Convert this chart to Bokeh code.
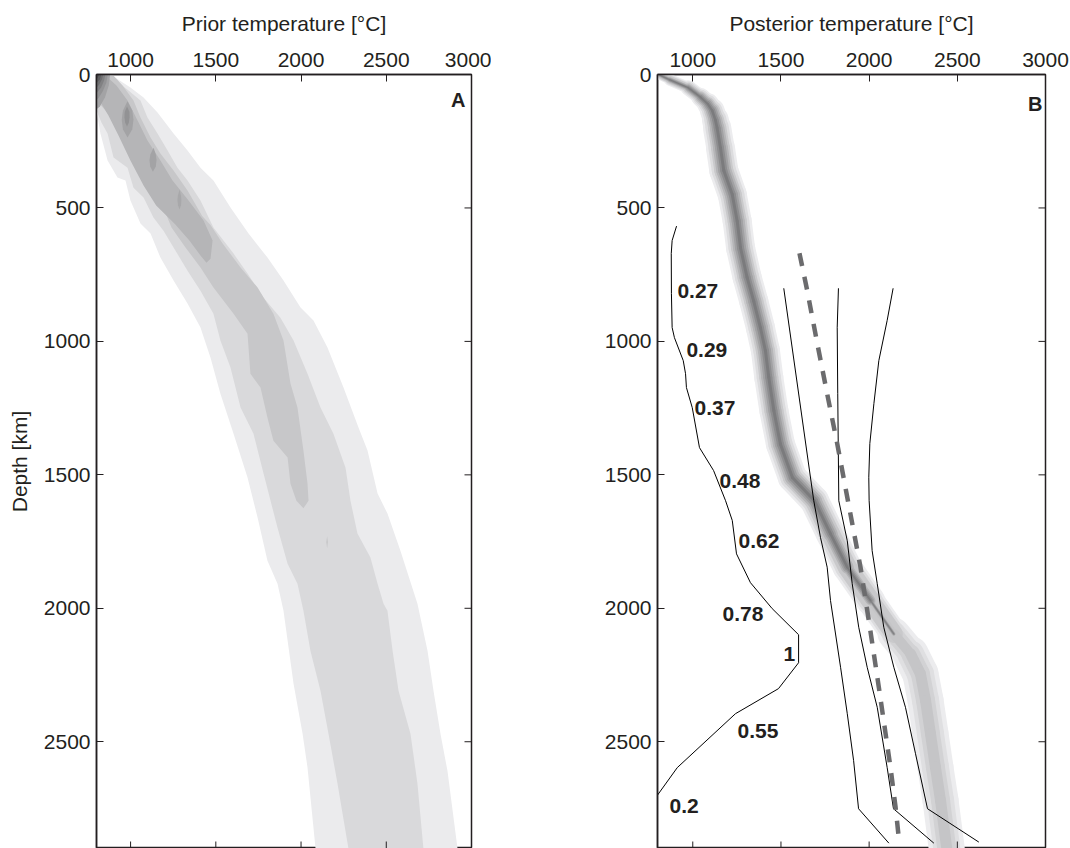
import math

from bokeh.plotting import figure
from bokeh.models import Range1d, FixedTicker, Label, ColumnDataSource
from bokeh.layouts import row
from bokeh.core.properties import value
from bokeh.embed import file_html
from bokeh.resources import INLINE

FONT = "Liberation Sans"
INK = "#231f20"

# ---------------------------------------------------------------------------
# Panel A: prior temperature density, drawn as nested filled contour bands.
# Each band is bounded by a left and a right edge (temperature [C], depth [km]).
# ---------------------------------------------------------------------------
band1_left_t = [800, 800, 823, 865, 923, 970, 999, 1058, 1117, 1175, 1252, 1334, 1410, 1469,
                1527, 1604, 1686, 1745, 1803, 1862, 1897, 1956, 2009, 2038, 2085]
band1_left_d = [0, 135, 221, 322, 386, 397, 472, 558, 596, 686, 772, 858, 948, 1061,
                1196, 1346, 1510, 1660, 1822, 1908, 2009, 2283, 2470, 2597, 2900]
band1_right_t = [882, 999, 1076, 1158, 1252, 1334, 1410, 1486, 1586, 1692, 1803, 1897, 1997, 2073,
                 2155, 2249, 2337, 2390, 2449, 2507, 2583, 2683, 2742, 2777, 2818, 2859, 2918]
band1_right_d = [0, 49, 86, 142, 221, 285, 349, 397, 498, 596, 686, 772, 873, 922,
                 1023, 1173, 1323, 1409, 1570, 1645, 1784, 1983, 2159, 2309, 2470, 2609, 2900]

band2_left_t = [800, 800, 829, 865, 900, 982, 1017, 1076, 1134, 1193, 1252, 1334, 1410, 1486, 1527,
                1586, 1645, 1721, 1780, 1821, 1862, 1921, 1979, 2014, 2055, 2114, 2161, 2214, 2278]
band2_left_d = [0, 135, 180, 221, 311, 349, 424, 461, 536, 585, 648, 735, 810, 896, 997,
                1098, 1248, 1346, 1495, 1597, 1698, 1833, 1908, 2009, 2159, 2309, 2470, 2657, 2900]
band2_right_t = [841, 911, 988, 1058, 1099, 1158, 1217, 1275, 1334, 1410, 1486, 1604, 1686, 1780, 1879, 1956,
                 2038, 2114, 2190, 2261, 2290, 2331, 2407, 2449, 2484, 2507, 2537, 2572, 2642, 2683, 2718]
band2_right_d = [0, 22, 60, 97, 161, 221, 285, 349, 397, 472, 573, 671, 746, 836, 911, 997,
                 1121, 1248, 1346, 1473, 1597, 1720, 1810, 1908, 1983, 2009, 2159, 2309, 2470, 2657, 2900]

band3_left_t = [800, 800, 853, 900, 958, 1017, 1099, 1175, 1240, 1322, 1410, 1486, 1604, 1686, 1703,
                1762, 1803, 1838, 1921, 1938, 1973, 2014]
band3_left_d = [0, 97, 135, 172, 236, 334, 409, 472, 573, 648, 723, 798, 896, 971, 1121,
                1173, 1286, 1372, 1435, 1533, 1597, 1625]
band3_right_t = [894, 953, 1017, 1058, 1117, 1175, 1252, 1334, 1420, 1470, 1540, 1645, 1745, 1838, 1897,
                 1938, 1979, 2014, 2038, 2044, 2014]
band3_right_d = [0, 41, 97, 161, 236, 296, 360, 435, 530, 565, 633, 723, 798, 896, 997,
                 1158, 1248, 1409, 1533, 1597, 1625]

band4_left_t = [800, 800, 870, 929, 999, 1076, 1150, 1260, 1345, 1410, 1445]
band4_left_d = [0, 79, 154, 229, 322, 416, 491, 560, 622, 678, 705]
band4_right_t = [847, 917, 982, 1041, 1099, 1175, 1246, 1340, 1428, 1481, 1469, 1445]
band4_right_d = [0, 41, 97, 172, 247, 322, 397, 472, 547, 622, 690, 705]

# small high-density pockets along the prior band
pocket_d = [[100, 135, 170, 205, 236], [120, 140, 160, 180, 195],
            [274, 300, 320, 345, 364], [431, 455, 470, 490, 506],
            [1730, 1752, 1775]]
pocket_left_t = [[982, 955, 948, 955, 982], [979, 966, 964, 968, 979],
                 [1135, 1116, 1111, 1115, 1131], [1287, 1277, 1275, 1278, 1287],
                 [2153, 2148, 2153]]
pocket_right_t = [[982, 1010, 1017, 1010, 982], [979, 993, 994, 990, 979],
                  [1135, 1148, 1152, 1148, 1131], [1287, 1296, 1298, 1296, 1287],
                  [2153, 2158, 2153]]
pocket_colors = ["#a3a3a5", "#929294", "#a3a3a5", "#a8a8aa", "#c7c7c9"]

# density peak at the surface (top-left corner), outermost to innermost contour
corner_t = [[800, 880, 872, 850, 820, 800], [800, 866, 858, 838, 812, 800],
            [800, 852, 845, 828, 800], [800, 840, 832, 815, 800],
            [800, 828, 820, 800], [800, 816, 808, 800]]
corner_d = [[0, 0, 40, 85, 120, 130], [0, 0, 30, 62, 88, 95],
            [0, 0, 22, 48, 70], [0, 0, 18, 38, 50],
            [0, 0, 18, 32], [0, 0, 10, 18]]
corner_colors = ["#a3a3a5", "#939395", "#818183", "#6f6f71", "#5c5c5e", "#48484a"]

band_colors = ["#ebebed", "#d9d9db", "#c7c7c9", "#b5b5b7"]

# ---------------------------------------------------------------------------
# Panel B: posterior temperature band, ratio profile and reference geotherms
# ---------------------------------------------------------------------------
post_depth = [0, 20, 50, 85, 110, 135, 170, 200, 275, 360, 450, 550, 650, 760, 850, 950, 1035, 1135,
              1260, 1385, 1510, 1597, 1721, 1846, 1971, 2096]
post_temp = [805, 870, 975, 1044, 1085, 1110, 1128, 1138, 1157, 1176, 1224, 1252, 1271, 1308, 1346,
             1384, 1412, 1431, 1460, 1497, 1565, 1690, 1781, 1876, 2008, 2140]
post_spread = [0.3, 0.35, 0.45, 0.6, 0.7, 0.8, 0.9, 0.95, 1, 1, 1, 1, 1, 1, 1, 1, 1, 1,
               1, 1, 1, 1, 1, 1, 1, 0.9]
post_core = [0.8, 0.85, 0.9, 1, 1, 1, 1, 1, 1, 1, 1, 1, 1, 1, 1, 1, 1, 1,
             1, 1, 1, 1, 0.9, 0.8, 0.5, 0.0]

post_low_depth = [1971, 2096, 2171, 2246, 2346, 2471, 2596, 2721, 2900]
post_low_temp = [2008, 2140, 2235, 2291, 2320, 2348, 2376, 2405, 2440]
post_low_spread = [0.5, 0.8, 1, 1, 1, 1, 1, 1, 1]

ratio_depth = [568, 622, 671, 821, 948, 986, 1072, 1121, 1173, 1248, 1398, 1484, 1597, 1671,
               1796, 1904, 2001, 2099, 2204, 2301, 2395, 2597, 2700]
ratio_value = [0.308, 0.283, 0.278, 0.279, 0.283, 0.296, 0.346, 0.359, 0.364, 0.397, 0.438, 0.518,
               0.586, 0.624, 0.648, 0.727, 0.85, 1.0, 1.0, 0.886, 0.642, 0.312, 0.2]
# the ratio profile is drawn on the temperature axis as 600 + 1000 * ratio
RATIO_ORIGIN = 600
RATIO_SCALE = 1000

ratio_labels = ["0.27", "0.29", "0.37", "0.48", "0.62", "0.78", "1", "0.55", "0.2"]
ratio_label_depth = [810, 1033, 1250, 1523, 1748, 2020, 2172, 2459, 2741]
ratio_label_temp = [913, 964, 1010, 1152, 1259, 1169, 1514, 1254, 868]

geo_a_depth = [801, 1597, 1734, 1846, 1971, 2221, 2395, 2571, 2751, 2880]
geo_a_temp = [1516, 1686, 1724, 1762, 1781, 1838, 1876, 1912, 1940, 2112]
geo_b_depth = [801, 947, 1196, 1597, 1747, 1908, 2071, 2221, 2371, 2596, 2751, 2880]
geo_b_temp = [1826, 1819, 1822, 1828, 1876, 1904, 1941, 1989, 2046, 2102, 2138, 2367]
geo_c_depth = [801, 922, 1072, 1233, 1383, 1509, 1597, 1784, 1908, 2071, 2221, 2371, 2545, 2751, 2876]
geo_c_temp = [2136, 2102, 2055, 2027, 2004, 1998, 2000, 2017, 2046, 2083, 2140, 2206, 2263, 2331, 2622]

dash_depth = [670, 810, 1008, 1196, 1383, 1584, 1846, 2071, 2296, 2596, 2746, 2860]
dash_temp = [1605, 1649, 1706, 1762, 1819, 1876, 1951, 2004, 2055, 2121, 2150, 2168]

temp_ticks = [1000, 1500, 2000, 2500, 3000]
depth_ticks = [0, 500, 1000, 1500, 2000, 2500]
T_MIN, T_MAX = 800, 3000
D_MAX = 2900


def style_axis(ax, ticks):
    ax.ticker = FixedTicker(ticks=ticks)
    ax.axis_line_color = INK
    ax.axis_line_width = 1.5
    ax.major_tick_line_color = INK
    ax.major_tick_line_width = 1
    ax.major_tick_in = 7
    ax.major_tick_out = 0
    ax.minor_tick_line_color = None
    ax.major_label_text_font = FONT
    ax.major_label_text_color = INK
    ax.major_label_text_font_size = "21px"
    ax.major_label_standoff = 6
    ax.axis_label_text_font = FONT
    ax.axis_label_text_font_size = "21px"
    ax.axis_label_text_font_style = "normal"
    ax.axis_label_text_color = INK


def make_panel(width, border_left, border_right, title, ylabel):
    p = figure(width=width, height=848, x_range=Range1d(T_MIN, T_MAX), y_range=Range1d(D_MAX, 0),
               x_axis_location="above", output_backend="svg", toolbar_location=None,
               min_border_left=border_left, min_border_right=border_right,
               min_border_top=74, min_border_bottom=0)
    p.outline_line_color = INK
    p.outline_line_width = 1.5
    p.xgrid.visible = False
    p.ygrid.visible = False
    top = p.xaxis[0]
    style_axis(top, temp_ticks)
    top.major_label_standoff = 8
    top.axis_label = title
    top.axis_label_standoff = 15
    left = p.yaxis[0]
    style_axis(left, depth_ticks)
    if ylabel:
        left.axis_label = ylabel
        left.axis_label_standoff = 10
    return p


def inner_ticks(p):
    # inward tick marks on the bottom and right edges of the box (half of each
    # dash marker is clipped away by the frame)
    p.scatter(temp_ticks[:-1], [D_MAX] * (len(temp_ticks) - 1), marker="dash", size=14,
              angle=math.pi / 2, line_color=INK, line_width=1)
    p.scatter([T_MAX] * (len(depth_ticks) - 1), depth_ticks[1:], marker="dash", size=14,
              line_color=INK, line_width=1)


def outline(left_t, left_d, right_t, right_d):
    return list(left_t) + list(right_t)[::-1], list(left_d) + list(right_d)[::-1]


# ---------------- Panel A ----------------
pa = make_panel(491, 96, 20, "Prior temperature [°C]", "Depth [km]")

bands = [(band1_left_t, band1_left_d, band1_right_t, band1_right_d),
         (band2_left_t, band2_left_d, band2_right_t, band2_right_d),
         (band3_left_t, band3_left_d, band3_right_t, band3_right_d),
         (band4_left_t, band4_left_d, band4_right_t, band4_right_d)]
for (lt, ld, rt, rd), col in zip(bands, band_colors):
    xs, ys = outline(lt, ld, rt, rd)
    pa.patch(xs, ys, fill_color=col, line_color=None)

for d, lt, rt, col in zip(pocket_d, pocket_left_t, pocket_right_t, pocket_colors):
    xs, ys = outline(lt, d, rt, d)
    pa.patch(xs, ys, fill_color=col, line_color=None)

for ct, cd, col in zip(corner_t, corner_d, corner_colors):
    pa.patch(ct, cd, fill_color=col, line_color=None)

inner_ticks(pa)
pa.add_layout(Label(x=2965, y=97, text="A", text_align="right", text_baseline="middle",
                    text_font=FONT, text_font_size="20px", text_font_style="bold", text_color=INK))

# ---------------- Panel B ----------------
pb = make_panel(579, 166, 25, "Posterior temperature [°C]", None)


def segments(depths, temps, factor_lists):
    xs, ys = [], []
    facs = [[] for _ in factor_lists]
    for i in range(len(depths) - 1):
        xs.append([temps[i], temps[i + 1]])
        ys.append([depths[i], depths[i + 1]])
        for k, fl in enumerate(factor_lists):
            facs[k].append(0.5 * (fl[i] + fl[i + 1]))
    return xs, ys, facs


up_xs, up_ys, (up_spread, up_core) = segments(post_depth, post_temp, [post_spread, post_core])
lo_xs, lo_ys, (lo_spread,) = segments(post_low_depth, post_low_temp, [post_low_spread])

# (path, base width in px, colour, uses core fading) drawn lightest first
layers = [("low", 36, "#ececee", False), ("up", 29, "#ececee", False),
          ("low", 27, "#dfdfe1", False), ("up", 24, "#dcdcde", False),
          ("low", 19, "#d2d2d4", False), ("up", 19, "#c9c9cb", False),
          ("low", 11, "#c5c5c7", False), ("up", 15, "#b5b5b7", True),
          ("up", 11, "#a1a1a3", True), ("up", 7, "#8d8d8f", True),
          ("up", 3, "#7b7b7d", True)]
for path, w, col, fade in layers:
    if path == "up":
        xs, ys = up_xs, up_ys
        widths = [w * s * (c if fade else 1) for s, c in zip(up_spread, up_core)]
    else:
        xs, ys = lo_xs, lo_ys
        widths = [w * s for s in lo_spread]
    src = ColumnDataSource(dict(xs=xs, ys=ys, w=widths))
    pb.multi_line("xs", "ys", source=src, line_width="w", line_color=col,
                  line_cap="round", line_join="round")

ratio_temp = [RATIO_ORIGIN + RATIO_SCALE * v for v in ratio_value]
pb.line(ratio_temp, ratio_depth, line_color="black", line_width=1)

for gt, gd in [(geo_a_temp, geo_a_depth), (geo_b_temp, geo_b_depth), (geo_c_temp, geo_c_depth)]:
    pb.line(gt, gd, line_color="black", line_width=1)

pb.line(dash_temp, dash_depth, line_color="#6b6b6d", line_width=4.5, line_dash="13 11")

lab_src = ColumnDataSource(dict(x=ratio_label_temp, y=ratio_label_depth, t=ratio_labels))
pb.text("x", "y", text="t", source=lab_src, text_font=value(FONT), text_font_size="21px",
        text_font_style="bold", text_color=INK, text_align="left", text_baseline="middle")

inner_ticks(pb)
pb.add_layout(Label(x=2983, y=109, text="B", text_align="right", text_baseline="middle",
                    text_font=FONT, text_font_size="20px", text_font_style="bold", text_color=INK))

layout = row(pa, pb)
open("out.html", "w").write(file_html(layout, INLINE))
